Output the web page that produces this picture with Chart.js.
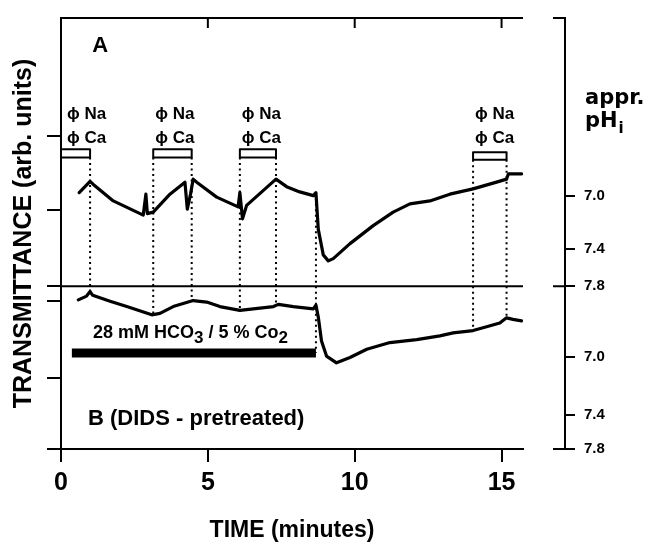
<!DOCTYPE html>
<html>
<head>
<meta charset="utf-8">
<script src="https://cdn.jsdelivr.net/npm/chart.js@4/dist/chart.umd.min.js"></script>
<style>
  html, body { margin: 0; padding: 0; background: #fff; }
  canvas { display: block; }
</style>
</head>
<body>
<canvas id="c" width="655" height="544"></canvas>
<script>
// Transmittance traces (arbitrary units) against time in minutes
const timeA  = [0.62, 0.99, 1.10, 1.78, 2.80, 2.89, 2.94, 3.14, 3.71, 4.22, 4.30, 4.41, 4.50, 4.62, 5.30, 6.03, 6.09, 6.18, 6.32, 7.32, 7.68, 8.13, 8.59, 8.68, 8.76, 8.93, 9.10, 9.27, 9.84, 10.63, 11.31, 11.88, 12.56, 13.24, 14.03, 14.83, 15.17, 15.23, 15.39, 15.68];
const transA = [3.42, 3.57, 3.53, 3.31, 3.12, 3.40, 3.14, 3.16, 3.40, 3.56, 3.20, 3.40, 3.60, 3.56, 3.36, 3.23, 3.42, 3.07, 3.25, 3.60, 3.50, 3.43, 3.38, 3.42, 2.93, 2.59, 2.51, 2.54, 2.74, 2.98, 3.16, 3.27, 3.31, 3.40, 3.47, 3.56, 3.60, 3.67, 3.67, 3.67];

const timeB  = [0.59, 0.87, 0.99, 1.08, 1.67, 2.24, 3.09, 3.37, 3.82, 4.50, 4.96, 5.41, 6.09, 6.55, 7.23, 7.40, 7.91, 8.59, 8.68, 8.76, 8.87, 9.04, 9.38, 9.84, 10.41, 11.20, 12.11, 12.90, 13.35, 14.03, 14.49, 14.94, 15.17, 15.39, 15.68];
const transB = [1.99, 2.04, 2.10, 2.05, 1.97, 1.90, 1.79, 1.81, 1.90, 1.98, 1.96, 1.90, 1.85, 1.87, 1.90, 1.93, 1.90, 1.87, 1.92, 1.76, 1.44, 1.24, 1.15, 1.22, 1.33, 1.42, 1.46, 1.51, 1.55, 1.58, 1.63, 1.68, 1.75, 1.73, 1.71];

// Solution changes (dotted markers)
const markTimes  = [0.99, 3.14, 4.45, 6.09, 7.32, 8.68, 14.03, 15.17];
const markTop    = [3.89, 3.89, 3.89, 3.89, 3.89, 3.42, 3.86, 3.86];
const markBottom = [2.10, 1.80, 1.98, 1.85, 1.92, 1.28, 1.58, 1.75];

// Na/Ca-free periods (open boxes)
const boxStart  = [0.00, 3.14, 6.09, 14.03];
const boxEnd    = [0.99, 4.45, 7.32, 15.17];
const boxTop    = [4.00, 4.00, 4.00, 3.96];
const boxBottom = [3.89, 3.89, 3.89, 3.86];

// HCO3 / CO2 period
const barStart = 0.37, barEnd = 8.68, barLevel = 1.28;
// Boundary between panels A and B
const panelDivide = 2.17;

// Axes
const xTicks = [0, 5, 10, 15];
const xMax = 15.73;
const yMax = 5.75;
const leftTicks = [0, 0.95, 1.97, 2.17, 3.19, 4.18];
const phTickPos    = [3.38, 2.67, 2.17, 1.23, 0.46, 0.0];
const phTickLabels = ['7.0', '7.4', '7.8', '7.0', '7.4', '7.8'];
const phBracket    = [yMax, panelDivide, 0];

const SANS = '"Liberation Sans", Arial, sans-serif';
const GEOM = '"DejaVu Sans", sans-serif';

const zip = (xs, ys) => xs.map((v, i) => ({ x: v, y: ys[i] }));

const markData = [];
markTimes.forEach((t, i) => {
  markData.push({ x: t, y: markTop[i] }, { x: t, y: markBottom[i] }, { x: t, y: null });
});
const boxData = [];
boxStart.forEach((s, i) => {
  const e = boxEnd[i], t = boxTop[i], b = boxBottom[i];
  boxData.push({ x: s, y: b }, { x: s, y: t }, { x: e, y: t }, { x: e, y: b }, { x: s, y: b }, { x: s, y: null });
});

const lineStyle = { pointRadius: 0, tension: 0, borderColor: '#000', fill: false, borderJoinStyle: 'round', borderCapStyle: 'round' };

// Annotations: labels, frame top, pH bracket
const overlay = {
  id: 'overlay',
  afterDatasetsDraw(chart) {
    const { ctx, chartArea: a, scales } = chart;
    const x = scales.x, y = scales.y, ph = scales.yPH;
    ctx.save();
    ctx.strokeStyle = '#000';
    ctx.fillStyle = '#000';
    ctx.lineWidth = 2;
    ctx.beginPath();
    ctx.moveTo(a.left, a.top);
    ctx.lineTo(a.right, a.top);
    xTicks.slice(1).forEach(v => {
      const px = x.getPixelForValue(v);
      ctx.moveTo(px, a.top);
      ctx.lineTo(px, a.top + 10);
    });
    phBracket.forEach(v => {
      const py = ph.getPixelForValue(v);
      ctx.moveTo(ph.left, py);
      ctx.lineTo(ph.left - 12, py);
    });
    ctx.stroke();

    ctx.textBaseline = 'alphabetic';
    ctx.textAlign = 'left';

    // Na / Ca labels above each box
    ctx.font = 'bold 17px ' + SANS;
    const labelTop = y.getPixelForValue(boxTop[0]);
    boxStart.forEach(s => {
      const px = Math.max(x.getPixelForValue(s) + 2, a.left + 6);
      ctx.fillText('\u03D5 Na', px, labelTop - 30);
      ctx.fillText('\u03D5 Ca', px, labelTop - 6);
    });

    // Panel labels
    ctx.font = 'bold 22px ' + SANS;
    ctx.fillText('A', x.getPixelForValue(1.06), y.getPixelForValue(5.3));
    ctx.fillText('B (DIDS - pretreated)', x.getPixelForValue(0.92), y.getPixelForValue(0.32));

    // HCO3 / CO2 label with subscripts
    const parts = [['28 mM HCO', 0], ['3', 1], [' / 5 % Co', 0], ['2', 1]];
    let tx = x.getPixelForValue(1.09);
    const ty = y.getPixelForValue(1.48);
    parts.forEach(([s, sub]) => {
      ctx.font = 'bold ' + (sub ? 17 : 18) + 'px ' + SANS;
      ctx.fillText(s, tx, ty + (sub ? 5 : 0));
      tx += ctx.measureText(s).width;
    });

    // Right-hand axis heading
    const hx = ph.left + 20;
    ctx.font = 'bold 21px ' + GEOM;
    ctx.fillText('appr.', hx, y.getPixelForValue(4.6));
    ctx.fillText('pH', hx, y.getPixelForValue(4.3));
    const w = ctx.measureText('pH').width;
    ctx.font = 'bold 15px ' + GEOM;
    ctx.fillText('i', hx + w + 1, y.getPixelForValue(4.3) + 6);
    ctx.restore();
  }
};

new Chart(document.getElementById('c'), {
  type: 'line',
  data: {
    datasets: [
      Object.assign({ data: zip(timeA, transA), borderWidth: 3.2 }, lineStyle),
      Object.assign({ data: zip(timeB, transB), borderWidth: 3.2 }, lineStyle),
      Object.assign({ data: [{ x: barStart, y: barLevel }, { x: barEnd, y: barLevel }], borderWidth: 9 }, lineStyle, { borderCapStyle: 'butt' }),
      Object.assign({ data: [{ x: 0, y: panelDivide }, { x: xMax, y: panelDivide }], borderWidth: 2 }, lineStyle),
      Object.assign({ data: boxData, borderWidth: 2, spanGaps: false }, lineStyle),
      Object.assign({ data: markData, borderWidth: 2, borderDash: [2, 3.5], spanGaps: false }, lineStyle, { borderCapStyle: 'butt' })
    ]
  },
  options: {
    responsive: false,
    animation: false,
    events: [],
    layout: { padding: { top: 14, left: 0, right: 0, bottom: 0 } },
    plugins: { legend: { display: false }, tooltip: { enabled: false } },
    scales: {
      x: {
        type: 'linear', position: 'bottom', min: 0, max: xMax,
        afterBuildTicks: s => { s.ticks = xTicks.map(v => ({ value: v })); },
        ticks: { color: '#000', font: { family: SANS, size: 25, weight: 'bold' }, padding: 6, maxRotation: 0, autoSkip: false },
        grid: { drawOnChartArea: false, drawTicks: true, tickLength: 13, color: '#000', lineWidth: 2 },
        border: { display: true, color: '#000', width: 2 },
        title: { display: true, text: 'TIME (minutes)', color: '#000', font: { family: SANS, size: 23, weight: 'bold' }, padding: { top: 0, bottom: 0 } },
        afterFit: s => { s.height = 95; }
      },
      y: {
        type: 'linear', position: 'left', min: 0, max: yMax,
        afterBuildTicks: s => { s.ticks = leftTicks.map(v => ({ value: v })); },
        ticks: { display: false },
        grid: { drawOnChartArea: false, drawTicks: true, tickLength: 14, color: '#000', lineWidth: 2 },
        border: { display: true, color: '#000', width: 2 },
        title: { display: true, text: 'TRANSMITTANCE (arb. units)', color: '#000', font: { family: SANS, size: 25, weight: 'bold' }, padding: { top: 9, bottom: 0 } },
        afterFit: s => { s.width = 61; }
      },
      ySpacer: {
        type: 'linear', position: 'right', min: 0, max: yMax, weight: 1,
        ticks: { display: false },
        grid: { display: false },
        border: { display: false },
        afterFit: s => { s.width = 42; }
      },
      yPH: {
        type: 'linear', position: 'right', min: 0, max: yMax, weight: 2,
        afterBuildTicks: s => { s.ticks = phTickPos.map(v => ({ value: v })); },
        ticks: { color: '#000', font: { family: SANS, size: 15, weight: 'bold' }, padding: 9, autoSkip: false,
                 callback: (v, i) => phTickLabels[i] },
        grid: { drawOnChartArea: false, drawTicks: true, tickLength: 10, color: '#000', lineWidth: 2 },
        border: { display: true, color: '#000', width: 2 },
        afterFit: s => { s.width = 90; }
      }
    }
  },
  plugins: [overlay]
});
</script>
</body>
</html>
